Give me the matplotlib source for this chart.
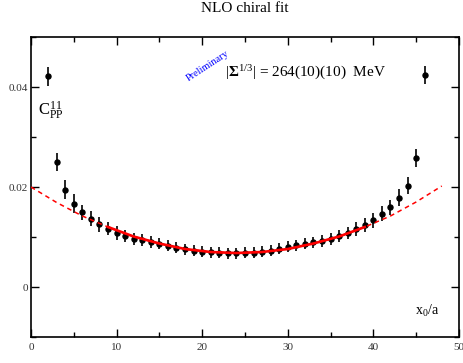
import numpy as np
from matplotlib import pyplot as plt

plt.rcParams['font.family'] = 'Liberation Serif'
plt.rcParams['mathtext.fontset'] = 'custom'
plt.rcParams['mathtext.rm'] = 'Liberation Serif'
plt.rcParams['mathtext.it'] = 'Liberation Serif:italic'
plt.rcParams['mathtext.bf'] = 'Liberation Serif:bold'

# correlator data C_PP^11 vs x0/a
x0 = np.arange(2, 47)
C_pp = [0.0422, 0.0251, 0.0195, 0.0167, 0.0150, 0.0137, 0.0126, 0.0117, 0.0109,
        0.0103, 0.0097, 0.0094, 0.0091, 0.0087, 0.0083, 0.0079, 0.0076, 0.0073,
        0.0071, 0.0070, 0.0069, 0.0068, 0.0068, 0.0069, 0.0069, 0.0071, 0.0073,
        0.0077, 0.0081, 0.0084, 0.0087, 0.0090, 0.0093, 0.0096, 0.0103, 0.0109,
        0.0116, 0.0125, 0.0134, 0.0147, 0.0160, 0.0179, 0.0203, 0.0258, 0.0425]
C_err = [0.0019, 0.0018, 0.0019, 0.0019, 0.0015, 0.0015, 0.0015, 0.0013, 0.0014,
         0.0012, 0.0012, 0.0012, 0.0012, 0.0011, 0.0011, 0.0011, 0.0011, 0.0011,
         0.0011, 0.0011, 0.0011, 0.0011, 0.0011, 0.0011, 0.0011, 0.0011, 0.0011,
         0.0011, 0.0011, 0.0011, 0.0011, 0.0011, 0.0012, 0.0012, 0.0012, 0.0012,
         0.0014, 0.0014, 0.0015, 0.0015, 0.0015, 0.0017, 0.0017, 0.0018, 0.0018]

# NLO fit curve
fit_x = np.arange(0, 49, 3)
fit_y = [0.0200, 0.0169, 0.0142, 0.0120, 0.0101, 0.0087, 0.0076, 0.0070, 0.0068,
         0.0070, 0.0076, 0.0087, 0.0101, 0.0120, 0.0142, 0.0170, 0.0202]
fit_lo, fit_hi = 9, 39

fig = plt.figure(figsize=(4.64, 3.63), dpi=100)
ax = fig.add_axes([0.0668, 0.0716, 0.9222, 0.8264])

ax.errorbar(x0, C_pp, yerr=C_err, fmt="o", color="black", markersize=3.6,
            elinewidth=1.2, capsize=0, zorder=2)

ax.plot(fit_x, fit_y, color="red", linestyle=(0, (3, 2.5)), linewidth=1.1, zorder=3)
sel = (fit_x >= fit_lo) & (fit_x <= fit_hi)
ax.plot(fit_x[sel], np.array(fit_y)[sel], color="red", linewidth=1.9, zorder=3)

ax.set_xlim(0, 50)
ax.set_ylim(-0.01, 0.05)
ax.set_xticks([0, 10, 20, 30, 40, 50])
ax.set_xticks([5, 15, 25, 35, 45], minor=True)
ax.set_yticks([0, 0.02, 0.04])
ax.set_yticklabels(["0", "0.02", "0.04"])
ax.set_yticks([-0.01, 0.01, 0.03, 0.05], minor=True)
ax.tick_params(which="both", direction="in", top=True, right=True,
               labelsize=8, labelcolor="#333333", width=1)
ax.tick_params(which="major", length=6)
ax.tick_params(which="minor", length=3.5)
ax.tick_params(axis="x", pad=4)
ax.tick_params(axis="y", pad=2)
for s in ax.spines.values():
    s.set_linewidth(1.2)

ax.set_title("NLO chiral fit", fontsize=11, pad=18)
ax.text(22.7, 0.0428, r"|$\mathbf{\Sigma}^{1/3}$| = 264(10)(10)  MeV",
        fontsize=11, va="center", ha="left")
ax.text(20.7, 0.0443, "Preliminary", color="blue", fontsize=7.5, rotation=33,
        ha="center", va="center")
ax.text(0.8, 0.0353, r"$\mathrm{C}_{\mathrm{PP}}^{11}$", fontsize=12, va="center")
ax.text(44.9, -0.0048, r"$\mathrm{x}_{0}\mathrm{/a}$", fontsize=10, va="center")

fig.savefig("out.png", dpi=100)
